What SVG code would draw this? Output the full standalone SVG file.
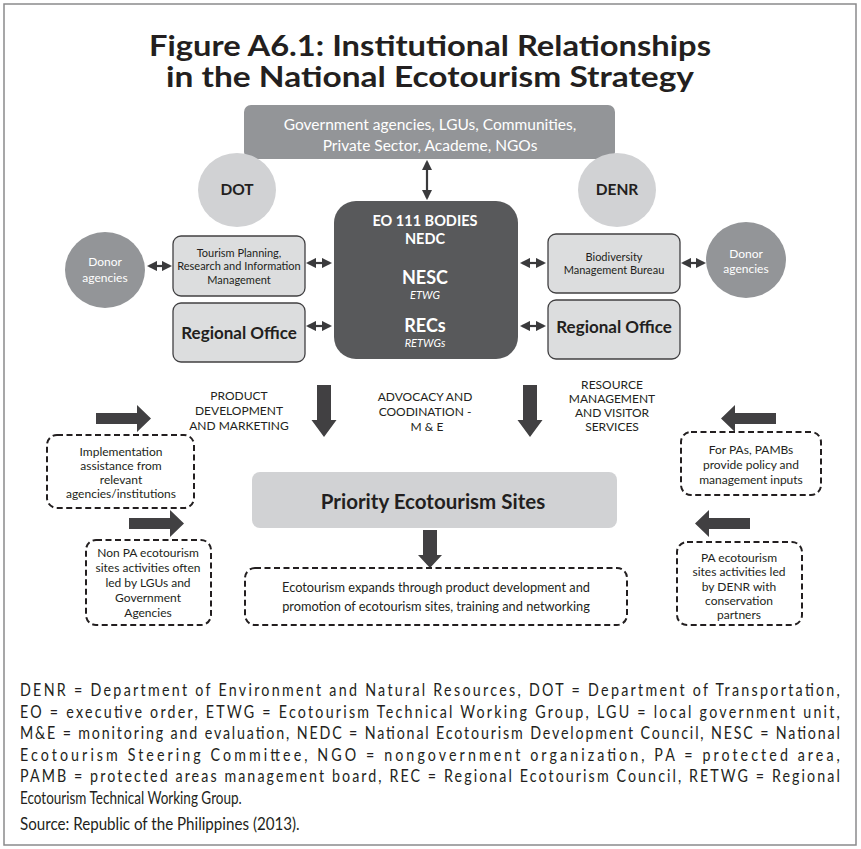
<svg xmlns="http://www.w3.org/2000/svg" width="861" height="849" viewBox="0 0 861 849">
<style>
text{font-family:Lato,"Open Sans","Liberation Sans",sans-serif;fill:#231f20;text-anchor:middle}
.title{font-size:28px;font-weight:bold}
.w{fill:#ffffff}
.b{font-weight:bold}
.it{font-style:italic}
.s11{font-size:11px}
.s12{font-size:12px}
.s15{font-size:15.5px}
.lab{font-size:12px}
.dash{fill:none;stroke:#231f20;stroke-width:2;stroke-dasharray:6 3.5}
.side{fill:#dcddde;stroke:#414042;stroke-width:1.3}
.dbl{stroke:#3a3a3c;stroke-width:2.2;fill:none;marker-start:url(#ah);marker-end:url(#ah)}
.thick{fill:#414042}
.foot{font-size:17px;text-anchor:start}
</style>
<defs>
<marker id="ah" viewBox="0 0 10 10" refX="8" refY="5" markerWidth="4.8" markerHeight="4.8" orient="auto-start-reverse" markerUnits="strokeWidth">
<path d="M0,0 L10,5 L0,10 Z" fill="#3a3a3c"/>
</marker>
<path id="tR" d="M0,-5.5 L41,-5.5 L41,-13.5 L55,0 L41,13.5 L41,5.5 L0,5.5 Z"/>
<path id="tD" d="M-7,0 L7,0 L7,35 L12.5,35 L0,52 L-12.5,35 L-7,35 Z"/>
</defs>
<rect x="0" y="0" width="861" height="849" fill="#ffffff"/>
<rect x="4" y="4" width="852" height="841" fill="none" stroke="#8a8a8c" stroke-width="1.5"/>

<g id="title">
<text class="title" x="430" y="56" textLength="562" lengthAdjust="spacingAndGlyphs">Figure A6.1: Institutional Relationships</text>
<text class="title" x="430" y="87" textLength="528" lengthAdjust="spacingAndGlyphs">in the National Ecotourism Strategy</text>
</g>

<g id="stakeholders">
<rect x="244" y="105" width="371" height="54" rx="7" fill="#939598"/>
<text class="s15 w" x="430" y="130">Government agencies, LGUs, Communities,</text>
<text class="s15 w" x="430" y="151">Private Sector, Academe, NGOs</text>
</g>

<g id="dot">
<ellipse cx="237" cy="190" rx="39" ry="37" fill="#d1d2d4"/>
<text class="s15 b" x="237" y="195">DOT</text>
</g>
<g id="denr">
<ellipse cx="617" cy="190" rx="39" ry="37" fill="#d1d2d4"/>
<text class="s15 b" x="617" y="195">DENR</text>
</g>

<g id="eo111">
<rect x="334" y="201" width="184" height="158" rx="22" fill="#58595b"/>
<text class="w b" font-size="14.5" x="425" y="226">EO 111 BODIES</text>
<text class="w b" font-size="14.5" x="425" y="244">NEDC</text>
<text class="w b" font-size="18" x="425" y="284">NESC</text>
<text class="w it s11" x="425" y="299">ETWG</text>
<text class="w b" font-size="18" x="425" y="332">RECs</text>
<text class="w it s11" x="425" y="347">RETWGs</text>
</g>

<g id="donor-left">
<ellipse cx="105" cy="270" rx="40" ry="38" fill="#939598"/>
<text class="s12 w" x="105" y="266">Donor</text>
<text class="s12 w" x="105" y="282">agencies</text>
</g>
<g id="tourism-planning">
<rect class="side" x="173" y="236" width="132" height="60" rx="8"/>
<text class="s11" x="239" y="257">Tourism Planning,</text>
<text class="s11" x="239" y="270">Research and Information</text>
<text class="s11" x="239" y="284">Management</text>
</g>
<g id="regional-office-left">
<rect class="side" x="173" y="303" width="132" height="59" rx="8"/>
<text class="b" font-size="17" x="239" y="339">Regional Office</text>
</g>

<g id="biodiversity">
<rect class="side" x="548" y="234" width="132" height="59" rx="8"/>
<text class="s11" x="614" y="261">Biodiversity</text>
<text class="s11" x="614" y="274">Management Bureau</text>
</g>
<g id="regional-office-right">
<rect class="side" x="548" y="300" width="132" height="59" rx="8"/>
<text class="b" font-size="17" x="614" y="333">Regional Office</text>
</g>
<g id="donor-right">
<ellipse cx="746" cy="260" rx="40" ry="38" fill="#939598"/>
<text class="s12 w" x="746" y="258">Donor</text>
<text class="s12 w" x="746" y="273">agencies</text>
</g>

<g id="connectors">
<line class="dbl" x1="427" y1="162" x2="427" y2="198"/>
<line class="dbl" x1="149" y1="266" x2="170" y2="266"/>
<line class="dbl" x1="308" y1="263" x2="330" y2="263"/>
<line class="dbl" x1="308" y1="326" x2="330" y2="326"/>
<line class="dbl" x1="522" y1="263" x2="544" y2="263"/>
<line class="dbl" x1="522" y1="326" x2="544" y2="326"/>
<line class="dbl" x1="683" y1="263" x2="704" y2="263"/>
<use href="#tD" class="thick" x="324" y="385"/>
<use href="#tD" class="thick" x="530" y="385"/>
<path class="thick" d="M423,530 L437,530 L437,555 L442,555 L430,568 L418,555 L423,555 Z"/>
<use href="#tR" class="thick" transform="translate(96,418.5)"/>
<use href="#tR" class="thick" transform="translate(129,523.5)"/>
<use href="#tR" class="thick" transform="translate(776,418.5) scale(-1,1)"/>
<use href="#tR" class="thick" transform="translate(750,523.5) scale(-1,1)"/>
</g>

<g id="label-product">
<text class="lab" x="239" y="400">PRODUCT</text>
<text class="lab" x="239" y="415">DEVELOPMENT</text>
<text class="lab" x="239" y="430">AND MARKETING</text>
</g>
<g id="label-advocacy">
<text class="lab" x="425" y="401">ADVOCACY AND</text>
<text class="lab" x="425" y="416">COODINATION -</text>
<text class="lab" x="427" y="431">M &amp; E</text>
</g>
<g id="label-resource">
<text class="lab" x="612" y="389">RESOURCE</text>
<text class="lab" x="612" y="403">MANAGEMENT</text>
<text class="lab" x="612" y="417">AND VISITOR</text>
<text class="lab" x="612" y="431">SERVICES</text>
</g>

<g id="implementation">
<rect class="dash" x="47" y="435" width="147" height="73" rx="10"/>
<text class="s12" x="121" y="456">Implementation</text>
<text class="s12" x="121" y="470">assistance from</text>
<text class="s12" x="121" y="484">relevant</text>
<text class="s12" x="121" y="498">agencies/institutions</text>
</g>
<g id="non-pa">
<rect class="dash" x="86" y="540" width="125" height="85" rx="10"/>
<text class="s12" x="148" y="557">Non PA ecotourism</text>
<text class="s12" x="148" y="572">sites activities often</text>
<text class="s12" x="148" y="587">led by LGUs and</text>
<text class="s12" x="148" y="602">Government</text>
<text class="s12" x="148" y="617">Agencies</text>
</g>
<g id="pambs">
<rect class="dash" x="681" y="432" width="140" height="63" rx="10"/>
<text class="s12" x="751" y="454">For PAs, PAMBs</text>
<text class="s12" x="751" y="469">provide policy and</text>
<text class="s12" x="751" y="484">management inputs</text>
</g>
<g id="pa-sites">
<rect class="dash" x="677" y="542" width="125" height="83" rx="10"/>
<text class="s12" x="739" y="562">PA ecotourism</text>
<text class="s12" x="739" y="576">sites activities led</text>
<text class="s12" x="739" y="591">by DENR with</text>
<text class="s12" x="739" y="605">conservation</text>
<text class="s12" x="739" y="619">partners</text>
</g>

<g id="priority-sites">
<rect x="252" y="472" width="365" height="56" rx="8" fill="#d1d2d4"/>
<text class="b" font-size="20.5" x="433" y="509">Priority Ecotourism Sites</text>
</g>
<g id="expands">
<rect class="dash" x="245" y="568" width="382" height="57" rx="10"/>
<text font-size="12.8" x="436" y="592">Ecotourism expands through product development and</text>
<text font-size="12.8" x="436" y="611">promotion of ecotourism sites, training and networking</text>
</g>

<g id="footnote" transform="scale(0.84,1)">
<text class="foot" x="23.8" y="696" textLength="976" lengthAdjust="spacing">DENR = Department of Environment and Natural Resources, DOT = Department of Transportation,</text>
<text class="foot" x="23.8" y="718" textLength="976" lengthAdjust="spacing">EO = executive order, ETWG = Ecotourism Technical Working Group, LGU = local government unit,</text>
<text class="foot" x="23.8" y="739" textLength="976" lengthAdjust="spacing">M&amp;E = monitoring and evaluation, NEDC = National Ecotourism Development Council, NESC = National</text>
<text class="foot" x="23.8" y="761" textLength="976" lengthAdjust="spacing">Ecotourism Steering Committee, NGO = nongovernment organization, PA = protected area,</text>
<text class="foot" x="23.8" y="782" textLength="976" lengthAdjust="spacing">PAMB = protected areas management board, REC = Regional Ecotourism Council, RETWG = Regional</text>
<text class="foot" x="23.8" y="804" textLength="264" lengthAdjust="spacingAndGlyphs">Ecotourism Technical Working Group.</text>
<text class="foot" x="23.8" y="830" textLength="333" lengthAdjust="spacingAndGlyphs">Source: Republic of the Philippines (2013).</text>
</g>
</svg>
